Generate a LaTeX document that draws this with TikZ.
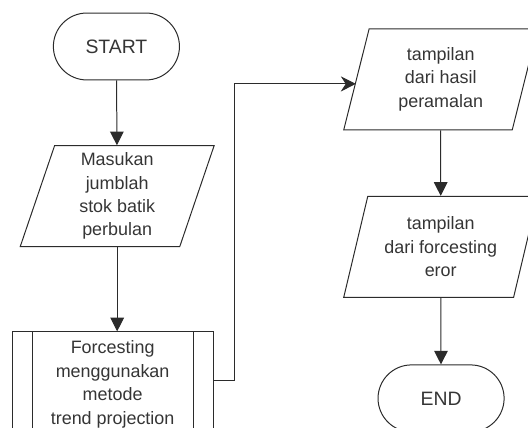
\documentclass[tikz,border=0pt]{standalone}
\usepackage{fontspec}
\setmainfont{Liberation Sans}
\usetikzlibrary{positioning,arrows.meta,shapes.geometric,shapes.misc}
\definecolor{ink}{HTML}{2B2B2B}
\definecolor{txt}{HTML}{353535}

\begin{document}
\begin{tikzpicture}[
    font=\fontsize{13.5}{17.6}\selectfont,
    line width=0.75pt,
    term/.style={draw=ink,rounded rectangle,text=txt,font=\fontsize{14.6}{17.6}\selectfont,
                 minimum width=3.57cm,minimum height=1.77cm},
    io/.style={draw=ink,trapezium,trapezium left angle=69,trapezium right angle=111,
               trapezium stretches body,minimum width=5.13cm,minimum height=2.67cm,
               align=center,text=txt,inner sep=1pt},
    subproc/.style={draw=ink,rectangle,minimum width=5.32cm,minimum height=2.78cm,
                    align=center,text=txt,
                    path picture={
                      \draw[ink] ([xshift=5.5mm]path picture bounding box.north west)
                                 -- ([xshift=5.5mm]path picture bounding box.south west);
                      \draw[ink] ([xshift=-5.3mm]path picture bounding box.north east)
                                 -- ([xshift=-5.3mm]path picture bounding box.south east);}},
    flow/.style={-{Triangle[length=3.6mm,width=3.6mm]},draw=ink},
    jump/.style={-{Stealth[length=4mm,width=4mm]},draw=ink}
  ]

  \useasboundingbox (0,0) rectangle (13.97,11.32);
  \clip (0,0) rectangle (13.97,11.32);

  % left column
  \node[term]    (start) at (3.08,10.09) {START};
  \node[io]      (stok)  at (3.10,6.13)  {Masukan\\jumblah\\stok batik\\perbulan};
  \node[subproc] (fcast) at (2.98,1.15)  {Forcesting\\menggunakan\\metode\\trend projection};

  % right column
  \node[io]   (hasil) at (11.66,9.22) {tampilan\\dari hasil\\peramalan};
  \node[io]   (eror)  at (11.66,4.79) {tampilan\\dari forcesting\\eror};
  \node[term] (stop)  at (11.67,0.78) {END};

  \draw[flow] (start) -- (stok);
  \draw[flow] (stok.south) -- (stok.south |- fcast.north);
  \draw[jump] ([yshift=1mm]fcast.east) -- ++(0.56,0) |- ([yshift=-1.2mm]hasil.west);
  \draw[flow] (hasil) -- (eror);
  \draw[flow] (eror) -- (stop);

\end{tikzpicture}
\end{document}
